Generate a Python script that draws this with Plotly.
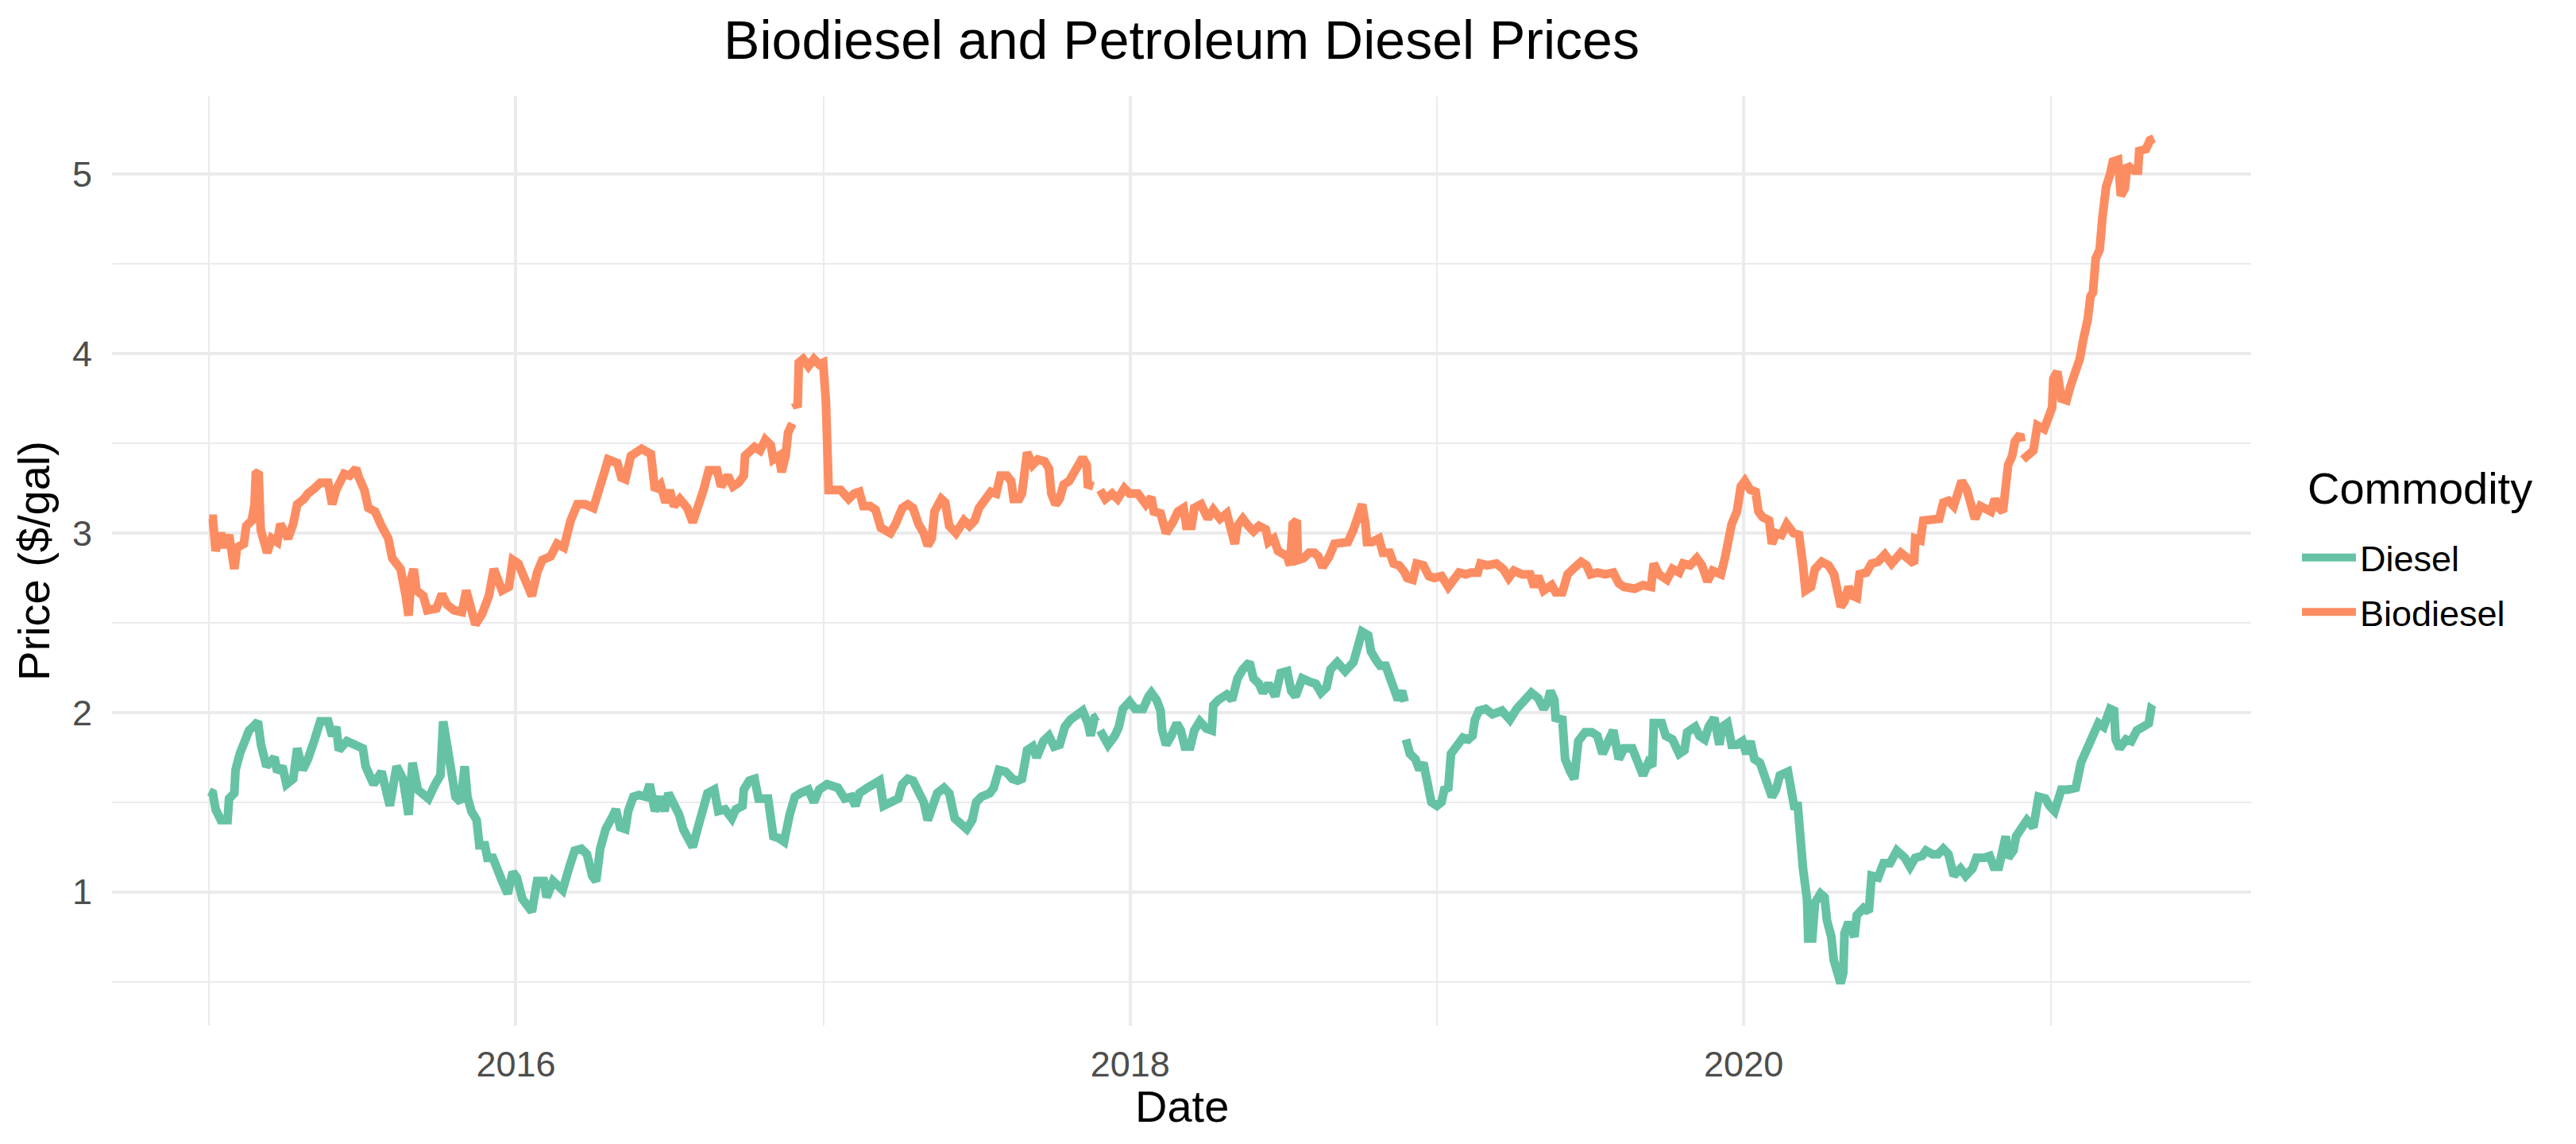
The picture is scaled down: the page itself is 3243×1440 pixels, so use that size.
import math
import pandas as pd
import plotly.graph_objects as go

# ---- Data (decimal year, $/gal); None = gap ----
biodiesel_t = [
    2015.000, 2015.012, 2015.021, 2015.038, 2015.052, 2015.065, 2015.082, 2015.091, 2015.113, 2015.121,
    2015.139, 2015.148, 2015.152, 2015.161, 2015.168, 2015.174, 2015.189, 2015.204, 2015.222, 2015.232,
    2015.244, 2015.257, 2015.274, 2015.287, 2015.309, 2015.322, 2015.344, 2015.362, 2015.388, 2015.401,
    2015.414, 2015.440, 2015.458, 2015.479, 2015.488, 2015.506, 2015.519, 2015.541, 2015.562, 2015.584,
    2015.597, 2015.624, 2015.641, 2015.650, 2015.659, 2015.667, 2015.676, 2015.698, 2015.711, 2015.741,
    2015.759, 2015.776, 2015.798, 2015.824, 2015.838, 2015.851, 2015.868, 2015.890, 2015.912, 2015.928,
    2015.938, 2015.955, 2015.977, 2015.990, 2016.008, 2016.030, 2016.052, 2016.069, 2016.086, 2016.113,
    2016.134, 2016.156, 2016.178, 2016.200, 2016.226, 2016.252, 2016.270, 2016.288, 2016.300, 2016.330,
    2016.343, 2016.356, 2016.374, 2016.409, 2016.439, 2016.452, 2016.470, 2016.487, 2016.500, 2016.514,
    2016.533, 2016.557, 2016.575, 2016.592, 2016.610, 2016.627, 2016.654, 2016.667, 2016.689, 2016.706,
    2016.724, 2016.741, 2016.745, 2016.776, 2016.794, 2016.811, 2016.829, 2016.837, 2016.855, 2016.864,
    2016.877, 2016.885, 2016.899, 2016.903, 2016.907, 2016.916, 2016.920, 2016.934, 2016.951, 2016.969,
    2016.986, 2016.999, 2017.008, 2017.017, 2017.034, 2017.056, 2017.082, 2017.100, 2017.117, 2017.130,
    2017.152, 2017.170, 2017.187, 2017.218, 2017.235, 2017.257, 2017.275, 2017.292, 2017.310, 2017.327,
    2017.340, 2017.353, 2017.362, 2017.384, 2017.397, 2017.410, 2017.432, 2017.458, 2017.476, 2017.493,
    2017.507, 2017.528, 2017.546, 2017.563, 2017.577, 2017.598, 2017.612, 2017.620, 2017.638, 2017.647,
    2017.656, 2017.664, 2017.682, 2017.699, 2017.721, 2017.735, 2017.743, 2017.757, 2017.770, 2017.783,
    2017.801, 2017.818, 2017.832, 2017.845, 2017.858, 2017.862, 2017.880, 2017.891, 2017.902, 2017.919,
    2017.941, 2017.959, 2017.981, 2017.998, 2018.025, 2018.051, 2018.069, 2018.077, 2018.099, 2018.117,
    2018.139, 2018.156, 2018.174, 2018.183, 2018.200, 2018.209, 2018.231, 2018.253, 2018.271, 2018.293,
    2018.315, 2018.328, 2018.341, 2018.350, 2018.367, 2018.385, 2018.402, 2018.420, 2018.442, 2018.451,
    2018.468, 2018.482, 2018.495, 2018.512, 2018.521, 2018.530, 2018.543, 2018.547, 2018.565, 2018.583,
    2018.600, 2018.613, 2018.627, 2018.649, 2018.666, 2018.684, 2018.710, 2018.728, 2018.745, 2018.756,
    2018.767, 2018.772, 2018.789, 2018.811, 2018.824, 2018.846, 2018.859, 2018.877, 2018.895, 2018.903,
    2018.921, 2018.934, 2018.956, 2018.974, 2018.991, 2019.015, 2019.037, 2019.050, 2019.072, 2019.094,
    2019.111, 2019.133, 2019.142, 2019.164, 2019.194, 2019.216, 2019.234, 2019.251, 2019.278, 2019.304,
    2019.317, 2019.330, 2019.348, 2019.374, 2019.387, 2019.409, 2019.426, 2019.444, 2019.470, 2019.488,
    2019.501, 2019.523, 2019.549, 2019.575, 2019.593, 2019.610, 2019.645, 2019.672, 2019.698, 2019.707,
    2019.724, 2019.750, 2019.768, 2019.790, 2019.803, 2019.825, 2019.847, 2019.864, 2019.882, 2019.899,
    2019.926, 2019.939, 2019.947, 2019.961, 2019.978, 2019.991, 2020.004, 2020.022, 2020.039, 2020.048,
    2020.061, 2020.083, 2020.092, 2020.105, 2020.123, 2020.140, 2020.162, 2020.180, 2020.193, 2020.201,
    2020.219, 2020.232, 2020.254, 2020.276, 2020.294, 2020.307, 2020.316, 2020.328, 2020.341, 2020.355,
    2020.368, 2020.377, 2020.399, 2020.416, 2020.437, 2020.459, 2020.481, 2020.511, 2020.537, 2020.554,
    2020.558, 2020.575, 2020.584, 2020.610, 2020.636, 2020.649, 2020.666, 2020.683, 2020.696, 2020.709,
    2020.726, 2020.739, 2020.752, 2020.770, 2020.787, 2020.804, 2020.817, 2020.830, 2020.843, 2020.852,
    2020.860, 2020.873, 2020.882, 2020.899, 2020.903, 2020.905, 2020.908, 2020.925, 2020.942, 2020.955,
    2020.977, 2020.990, 2021.003, 2021.007, 2021.020, 2021.033, 2021.050, 2021.063, 2021.080, 2021.093,
    2021.106, 2021.119, 2021.128, 2021.136, 2021.145, 2021.158, 2021.167, 2021.179, 2021.192, 2021.201,
    2021.218, 2021.227, 2021.240, 2021.248, 2021.270, 2021.283, 2021.287, 2021.309, 2021.322, 2021.335,
]
biodiesel_v = [
    3.08, 3.08, 2.90, 3.00, 2.92, 2.99, 2.80, 2.92, 2.94, 3.04,
    3.07, 3.16, 3.33, 3.34, 3.02, 2.99, 2.89, 2.97, 2.95, 3.05,
    3.00, 2.97, 3.05, 3.16, 3.19, 3.22, 3.25, 3.28, 3.28, 3.16,
    3.24, 3.33, 3.32, 3.36, 3.31, 3.24, 3.14, 3.12, 3.04, 2.97,
    2.86, 2.80, 2.65, 2.54, 2.75, 2.80, 2.68, 2.65, 2.57, 2.58,
    2.66, 2.60, 2.57, 2.56, 2.68, 2.58, 2.49, 2.55, 2.65, 2.80,
    2.75, 2.68, 2.70, 2.85, 2.83, 2.75, 2.65, 2.78, 2.85, 2.87,
    2.94, 2.92, 3.07, 3.16, 3.16, 3.14, 3.26, 3.34, 3.41, 3.39,
    3.31, 3.30, 3.43, 3.47, 3.44, 3.24, 3.27, 3.17, 3.24, 3.15,
    3.19, 3.14, 3.06, 3.14, 3.24, 3.35, 3.35, 3.26, 3.32, 3.26,
    3.28, 3.32, 3.43, 3.48, 3.46, 3.52, 3.49, 3.41, 3.43, 3.34,
    3.43, 3.56, 3.61, None, 3.73, 3.70, 3.95, 3.97, 3.93, 3.97,
    3.94, 3.95, 3.73, 3.24, 3.24, 3.24, 3.19, 3.22, 3.23, 3.15,
    3.15, 3.13, 3.03, 3.00, 3.05, 3.14, 3.16, 3.14, 3.05, 3.00,
    2.93, 2.97, 3.12, 3.19, 3.17, 3.04, 3.00, 3.07, 3.04, 3.07,
    3.14, 3.19, 3.23, 3.22, 3.32, 3.32, 3.29, 3.19, 3.19, 3.22,
    3.38, 3.45, 3.38, 3.41, 3.40, 3.36, 3.22, 3.16, 3.19, 3.27,
    3.29, 3.34, 3.38, 3.42, 3.38, 3.27, 3.26, None, 3.24, 3.19,
    3.22, 3.19, 3.25, 3.22, 3.22, 3.16, 3.20, 3.12, 3.11, 3.00,
    3.06, 3.12, 3.14, 3.04, 3.04, 3.14, 3.16, 3.08, 3.13, 3.08,
    3.11, 3.04, 2.94, 3.04, 3.08, 3.04, 3.01, 3.04, 3.02, 2.95,
    2.97, 2.90, 2.89, 2.87, 2.82, 3.05, 3.07, 2.85, 2.86, 2.89,
    2.89, 2.87, 2.81, 2.87, 2.94, 2.94, 2.95, 3.02, 3.12, 3.16,
    3.05, 2.95, 2.95, 2.97, 2.89, 2.89, 2.83, 2.82, 2.78, 2.75,
    2.74, 2.83, 2.82, 2.76, 2.75, 2.76, 2.70, 2.73, 2.78, 2.77,
    2.78, 2.78, 2.83, 2.82, 2.83, 2.80, 2.75, 2.79, 2.77, 2.77,
    2.70, 2.76, 2.68, 2.71, 2.67, 2.67, 2.77, 2.80, 2.84, 2.82,
    2.77, 2.78, 2.77, 2.78, 2.72, 2.70, 2.69, 2.71, 2.70, 2.83,
    2.77, 2.74, 2.80, 2.78, 2.83, 2.82, 2.86, 2.82, 2.73, 2.79,
    2.77, 2.86, 2.95, 3.05, 3.12, 3.26, 3.29, 3.24, 3.23, 3.12,
    3.09, 3.07, 2.94, 3.00, 2.99, 3.05, 3.00, 2.99, 2.82, 2.68,
    2.70, 2.80, 2.84, 2.82, 2.77, 2.68, 2.59, 2.62, 2.70, 2.65,
    2.64, 2.77, 2.78, 2.83, 2.84, 2.88, 2.83, 2.89, 2.86, 2.83,
    2.97, 2.96, 3.07, 3.08, 3.08, 3.17, 3.18, 3.15, 3.22, 3.29,
    3.24, 3.15, 3.08, 3.15, 3.14, 3.12, 3.19, 3.14, 3.12, 3.24,
    3.38, 3.43, 3.51, 3.55, 3.51, None, 3.41, 3.43, 3.46, 3.60,
    3.58, 3.64, 3.70, 3.86, 3.90, 3.75, 3.74, 3.82, 3.90, 3.97,
    4.09, 4.19, 4.32, 4.34, 4.53, 4.58, 4.76, 4.93, 5.00, 5.07,
    5.08, 4.88, 4.92, 5.05, 5.02, 5.02, 5.13, 5.14, 5.19, 5.20,
]

diesel_t = [
    2015.000, 2015.012, 2015.021, 2015.038, 2015.060, 2015.065, 2015.082, 2015.086, 2015.100, 2015.117,
    2015.130, 2015.143, 2015.159, 2015.169, 2015.187, 2015.213, 2015.222, 2015.239, 2015.252, 2015.274,
    2015.287, 2015.305, 2015.322, 2015.344, 2015.362, 2015.388, 2015.401, 2015.414, 2015.423, 2015.449,
    2015.475, 2015.501, 2015.510, 2015.536, 2015.562, 2015.589, 2015.611, 2015.632, 2015.650, 2015.663,
    2015.680, 2015.715, 2015.737, 2015.754, 2015.763, 2015.776, 2015.785, 2015.803, 2015.820, 2015.833,
    2015.842, 2015.855, 2015.872, 2015.881, 2015.899, 2015.907, 2015.925, 2015.942, 2015.955, 2015.973,
    2015.990, 2016.003, 2016.021, 2016.052, 2016.069, 2016.091, 2016.100, 2016.121, 2016.152, 2016.174,
    2016.191, 2016.213, 2016.231, 2016.248, 2016.261, 2016.274, 2016.292, 2016.317, 2016.325, 2016.339,
    2016.356, 2016.365, 2016.382, 2016.400, 2016.422, 2016.435, 2016.452, 2016.470, 2016.483, 2016.496,
    2016.514, 2016.531, 2016.544, 2016.566, 2016.575, 2016.592, 2016.610, 2016.623, 2016.645, 2016.658,
    2016.680, 2016.702, 2016.715, 2016.737, 2016.741, 2016.759, 2016.776, 2016.789, 2016.820, 2016.837,
    2016.855, 2016.872, 2016.890, 2016.907, 2016.925, 2016.951, 2016.969, 2016.986, 2017.012, 2017.047,
    2017.069, 2017.091, 2017.104, 2017.117, 2017.143, 2017.161, 2017.183, 2017.196, 2017.222, 2017.244,
    2017.257, 2017.275, 2017.292, 2017.310, 2017.327, 2017.340, 2017.353, 2017.371, 2017.393, 2017.410,
    2017.428, 2017.445, 2017.467, 2017.485, 2017.498, 2017.515, 2017.542, 2017.555, 2017.572, 2017.594,
    2017.616, 2017.633, 2017.647, 2017.664, 2017.682, 2017.695, 2017.717, 2017.735, 2017.752, 2017.770,
    2017.787, 2017.805, 2017.823, 2017.845, 2017.862, 2017.871, 2017.884, 2017.894, 2017.898, 2017.902,
    2017.928, 2017.950, 2017.963, 2017.976, 2017.998, 2018.016, 2018.042, 2018.060, 2018.069, 2018.086,
    2018.099, 2018.104, 2018.117, 2018.134, 2018.152, 2018.165, 2018.178, 2018.196, 2018.209, 2018.227,
    2018.249, 2018.266, 2018.271, 2018.288, 2018.315, 2018.332, 2018.350, 2018.367, 2018.389, 2018.402,
    2018.420, 2018.433, 2018.451, 2018.473, 2018.490, 2018.512, 2018.525, 2018.539, 2018.561, 2018.587,
    2018.605, 2018.622, 2018.640, 2018.653, 2018.675, 2018.701, 2018.728, 2018.741, 2018.756, 2018.776,
    2018.785, 2018.802, 2018.815, 2018.833, 2018.846, 2018.859, 2018.873, 2018.886, 2018.895, 2018.897,
    2018.899, 2018.912, 2018.930, 2018.943, 2018.956, 2018.965, 2018.982, 2019.000, 2019.015, 2019.024,
    2019.037, 2019.046, 2019.059, 2019.072, 2019.085, 2019.102, 2019.116, 2019.124, 2019.137, 2019.159,
    2019.181, 2019.212, 2019.238, 2019.260, 2019.286, 2019.308, 2019.330, 2019.348, 2019.361, 2019.370,
    2019.383, 2019.387, 2019.409, 2019.418, 2019.435, 2019.448, 2019.461, 2019.483, 2019.505, 2019.523,
    2019.540, 2019.558, 2019.575, 2019.593, 2019.610, 2019.637, 2019.654, 2019.672, 2019.689, 2019.702,
    2019.707, 2019.733, 2019.746, 2019.768, 2019.790, 2019.807, 2019.816, 2019.842, 2019.856, 2019.873,
    2019.886, 2019.904, 2019.912, 2019.921, 2019.930, 2019.947, 2019.961, 2019.978, 2019.996, 2020.009,
    2020.022, 2020.035, 2020.053, 2020.070, 2020.092, 2020.105, 2020.118, 2020.144, 2020.158, 2020.166,
    2020.175, 2020.184, 2020.193, 2020.206, 2020.210, 2020.223, 2020.232, 2020.250, 2020.263, 2020.271,
    2020.285, 2020.293, 2020.307, 2020.315, 2020.324, 2020.328, 2020.341, 2020.360, 2020.368, 2020.390,
    2020.407, 2020.416, 2020.437, 2020.455, 2020.476, 2020.498, 2020.524, 2020.541, 2020.558, 2020.580,
    2020.593, 2020.614, 2020.632, 2020.649, 2020.666, 2020.683, 2020.705, 2020.722, 2020.744, 2020.757,
    2020.783, 2020.800, 2020.813, 2020.830, 2020.843, 2020.852, 2020.860, 2020.877, 2020.886, 2020.908,
    2020.921, 2020.942, 2020.947, 2020.959, 2020.981, 2020.985, 2020.994, 2021.011, 2021.024, 2021.033,
    2021.054, 2021.080, 2021.097, 2021.115, 2021.128, 2021.136, 2021.154, 2021.171, 2021.184, 2021.192,
    2021.205, 2021.210, 2021.223, 2021.244, 2021.261, 2021.279, 2021.300, 2021.318, 2021.326, 2021.335,
]
diesel_v = [
    1.56, 1.55, 1.46, 1.40, 1.40, 1.52, 1.55, 1.68, 1.77, 1.85,
    1.90, 1.92, 1.95, 1.82, 1.70, 1.75, 1.67, 1.70, 1.60, 1.63,
    1.80, 1.68, 1.74, 1.85, 1.95, 1.95, 1.87, 1.92, 1.79, 1.84,
    1.82, 1.80, 1.70, 1.60, 1.67, 1.48, 1.70, 1.63, 1.43, 1.72,
    1.57, 1.52, 1.60, 1.65, 1.95, 1.82, 1.70, 1.53, 1.50, 1.70,
    1.53, 1.45, 1.40, 1.26, 1.26, 1.19, 1.19, 1.13, 1.06, 0.99,
    1.11, 1.08, 0.96, 0.89, 1.06, 1.06, 0.97, 1.06, 1.01, 1.14,
    1.23, 1.24, 1.21, 1.09, 1.06, 1.24, 1.35, 1.43, 1.46, 1.36,
    1.35, 1.45, 1.53, 1.54, 1.53, 1.60, 1.45, 1.53, 1.45, 1.55,
    1.50, 1.43, 1.35, 1.28, 1.25, 1.36, 1.46, 1.55, 1.57, 1.45,
    1.46, 1.41, 1.46, 1.48, 1.57, 1.62, 1.63, 1.52, 1.52, 1.31,
    1.30, 1.28, 1.43, 1.53, 1.55, 1.57, 1.50, 1.57, 1.60, 1.58,
    1.52, 1.53, 1.48, 1.55, 1.58, 1.60, 1.62, 1.48, 1.50, 1.52,
    1.60, 1.63, 1.62, 1.55, 1.50, 1.40, 1.46, 1.55, 1.58, 1.55,
    1.41, 1.38, 1.35, 1.40, 1.50, 1.53, 1.55, 1.58, 1.68, 1.67,
    1.63, 1.62, 1.63, 1.79, 1.81, 1.75, 1.84, 1.87, 1.81, 1.82,
    1.92, 1.96, 1.99, 2.01, 1.94, 1.87, 1.97, 1.98, None, 1.90,
    1.82, 1.87, 1.92, 2.02, 2.06, 2.02, 2.02, 2.09, 2.11, 2.07,
    2.01, 1.90, 1.82, 1.87, 1.94, 1.90, 1.81, 1.81, 1.90, 1.95,
    1.91, 1.90, 2.04, 2.07, 2.10, 2.07, 2.19, 2.24, 2.28, 2.19,
    2.16, 2.11, 2.16, 2.09, 2.22, 2.23, 2.12, 2.09, 2.19, 2.17,
    2.16, 2.11, 2.14, 2.24, 2.28, 2.23, 2.28, 2.36, 2.45, 2.43,
    2.34, 2.29, 2.26, 2.26, 2.19, 2.16, 2.07, 2.12, 2.06, None,
    1.85, 1.77, 1.74, 1.68, 1.72, 1.62, 1.50, 1.48, 1.50, 1.57,
    1.58, 1.77, 1.80, 1.84, 1.86, 1.85, 1.87, 1.96, 2.01, 2.02,
    1.99, 2.01, 1.96, 2.02, 2.06, 2.11, 2.08, 2.02, 2.06, 2.12,
    2.07, 1.97, 1.96, 1.74, 1.67, 1.63, 1.84, 1.89, 1.89, 1.87,
    1.77, 1.85, 1.90, 1.74, 1.80, 1.80, 1.74, 1.65, 1.72, 1.70,
    1.94, 1.94, 1.87, 1.85, 1.77, 1.79, 1.89, 1.92, 1.87, 1.85,
    1.92, 1.97, 1.90, 1.82, 1.92, 1.94, 1.82, 1.82, 1.84, 1.77,
    1.84, 1.74, 1.72, 1.62, 1.53, 1.57, 1.65, 1.67, 1.52, 1.46,
    1.50, 1.20, 1.13, 0.96, 0.74, 0.74, 0.94, 0.99, 0.97, 0.84,
    0.75, 0.62, 0.50, 0.49, 0.55, 0.77, 0.83, 0.75, 0.87, 0.91,
    0.89, 1.09, 1.08, 1.16, 1.16, 1.23, 1.19, 1.14, 1.19, 1.20,
    1.23, 1.21, 1.21, 1.24, 1.21, 1.09, 1.13, 1.09, 1.13, 1.19,
    1.19, 1.20, 1.14, 1.14, 1.24, 1.31, 1.19, 1.23, 1.31, 1.36,
    1.40, 1.36, 1.43, 1.53, 1.52, 1.50, 1.48, 1.45, 1.52, 1.57,
    1.57, 1.58, 1.72, 1.79, 1.84, 1.89, 1.94, 1.92, 2.01, 2.02,
    2.01, 1.85, 1.80, 1.85, 1.84, 1.90, 1.92, 1.94, 2.02, 2.01,
]

series_names = ["Diesel", "Biodiesel"]
series_colors = ["#66C2A5", "#FC8D62"]
y_ticks = [1, 2, 3, 4, 5]
y_minor = [0.5, 1.5, 2.5, 3.5, 4.5]
x_tick_years = [2016, 2018, 2020]
x_minor_years = [2015, 2017, 2019, 2021]
legend_title = "Commodity"
x_title = "Date"
y_title = "Price ($/gal)"
chart_title = "Biodiesel and Petroleum Diesel Prices"


def to_date(t):
    y = int(math.floor(t))
    start = pd.Timestamp(year=y, month=1, day=1)
    end = pd.Timestamp(year=y + 1, month=1, day=1)
    return start + (end - start) * (t - y)


FONT = "Liberation Sans, Arial, sans-serif"
GRID = "#EBEBEB"
W, H = 3243, 1440
ML, MR, MT, MB = 133, 417, 113, 157

fig = go.Figure()
for name, color, ts, vs in [
    (series_names[0], series_colors[0], diesel_t, diesel_v),
    (series_names[1], series_colors[1], biodiesel_t, biodiesel_v),
]:
    fig.add_trace(go.Scatter(
        x=[to_date(t) for t in ts], y=vs, mode="lines", name=name,
        legendgroup=name,
        line=dict(color=color, width=11), connectgaps=False,
    ))

# ggplot-like 5% expansion computed from the data
all_t = biodiesel_t + diesel_t
all_v = [v for v in biodiesel_v + diesel_v if v is not None]
t0, t1 = min(all_t), max(all_t)
v0, v1 = min(all_v), max(all_v)
tp = (t1 - t0) * 0.05
vp = (v1 - v0) * 0.05

plot_w = W - ML - MR
plot_h = H - MT - MB


def py(pix_from_top):
    return (H - MB - pix_from_top) / plot_h


fig.update_layout(
    width=W, height=H,
    paper_bgcolor="white", plot_bgcolor="white",
    margin=dict(l=ML, r=MR, t=MT, b=MB, autoexpand=False),
    font=dict(family=FONT, color="black"),
    title=dict(
        text=chart_title,
        x=0.5, xref="paper", xanchor="center",
        y=1 - 42 / H, yref="container", yanchor="middle",
        font=dict(size=68, color="black", family=FONT),
    ),
    showlegend=True,
    legend=dict(
        font=dict(size=45, color="black", family=FONT),
        xref="container", yref="container",
        x=2885 / W, xanchor="left",
        y=1 - 658 / H, yanchor="top",
        bgcolor="rgba(0,0,0,0)",
        itemwidth=68,
        tracegroupgap=7,
    ),
    annotations=[
        dict(
            text=legend_title, showarrow=False,
            xref="paper", yref="paper",
            x=(2895 - ML) / plot_w, xanchor="left",
            y=py(606), yanchor="middle",
            font=dict(size=56, color="black", family=FONT),
        ),
        dict(
            text=x_title, showarrow=False,
            xref="paper", yref="paper",
            x=0.5, xanchor="center",
            y=py(1384), yanchor="middle",
            font=dict(size=56, color="black", family=FONT),
        ),
    ],
    xaxis=dict(
        type="date",
        range=[to_date(t0 - tp), to_date(t1 + tp)],
        tickmode="array",
        tickvals=[pd.Timestamp(year=y, month=1, day=1) for y in x_tick_years],
        ticktext=[str(y) for y in x_tick_years],
        showgrid=True, gridcolor=GRID, gridwidth=4,
        minor=dict(
            tickmode="array",
            tickvals=[pd.Timestamp(year=y, month=1, day=1) for y in x_minor_years],
            showgrid=True, gridcolor=GRID, gridwidth=2,
        ),
        zeroline=False, showline=False, ticks="",
        ticklabelstandoff=18,
        tickfont=dict(size=45, color="#4D4D4D", family=FONT),
        automargin=False,
    ),
    yaxis=dict(
        range=[v0 - vp, v1 + vp],
        tickmode="array",
        tickvals=y_ticks,
        ticktext=[str(v) for v in y_ticks],
        showgrid=True, gridcolor=GRID, gridwidth=4,
        minor=dict(
            tickmode="array",
            tickvals=y_minor,
            showgrid=True, gridcolor=GRID, gridwidth=2,
        ),
        zeroline=False, showline=False, ticks="",
        ticklabelstandoff=24,
        tickfont=dict(size=45, color="#4D4D4D", family=FONT),
        title=dict(text=y_title, font=dict(size=56, color="black", family=FONT), standoff=10),
        automargin=False,
    ),
)

fig.write_html("out.html")
